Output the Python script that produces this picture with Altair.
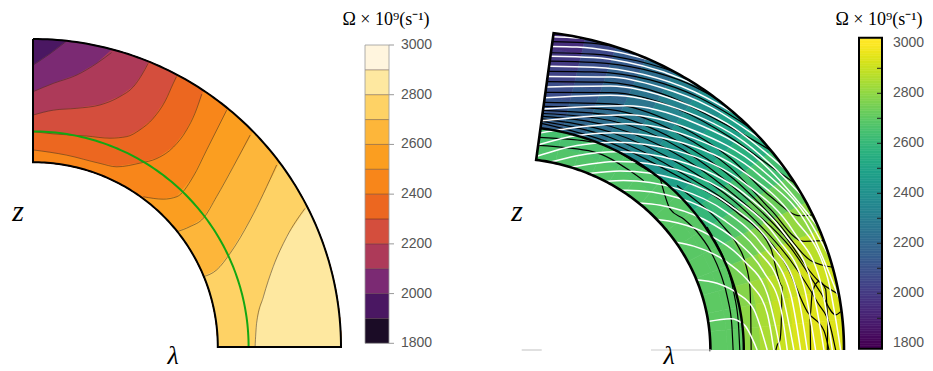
import math
import numpy as np
import pandas as pd
import altair as alt

# ---------------- data ----------------
LEVELS = [1800, 1900, 2000, 2100, 2200, 2300, 2400, 2500, 2600, 2700, 2800, 2900]
BAND_COLORS = ["#1b0c26", "#4a1762", "#7b2a73", "#ad3a59", "#d44e3d", "#ec6720",
               "#f8861a", "#fb9e20", "#fdb63a", "#fed265", "#fee8a0", "#fff5de"]
TICKS = [1800, 2000, 2200, 2400, 2600, 2800, 3000]
MINOR_TICKS = [1900, 2000, 2100, 2200, 2300, 2400, 2500, 2600, 2700, 2800, 2900]
LEFT_BASE_LEVEL = 1900

# left panel contour lines (lambda, z), normalised by outer radius
LEFT_CONTOURS = {
    2000: [(0.0, 0.915), (0.055, 0.952), (0.110, 0.994)],
    2100: [(0.0, 0.829), (0.066, 0.856), (0.142, 0.883), (0.207, 0.921), (0.255, 0.956)],
    2200: [(0.0, 0.753), (0.066, 0.769), (0.142, 0.775), (0.218, 0.786), (0.282, 0.813),
           (0.326, 0.845), (0.353, 0.883), (0.374, 0.921)],
    2300: [(0.0, 0.699), (0.066, 0.692), (0.174, 0.685), (0.250, 0.678), (0.304, 0.683),
           (0.347, 0.705), (0.390, 0.742), (0.430, 0.800), (0.455, 0.855), (0.466, 0.878)],
    2400: [(0.0, 0.640), (0.109, 0.623), (0.218, 0.596), (0.272, 0.585), (0.347, 0.597),
           (0.402, 0.612), (0.456, 0.649), (0.499, 0.705), (0.526, 0.759), (0.548, 0.821)],
    2500: [(0.358, 0.488), (0.423, 0.480), (0.467, 0.488), (0.520, 0.553), (0.564, 0.640),
           (0.629, 0.769)],
    2600: [(0.466, 0.374), (0.510, 0.391), (0.553, 0.418), (0.596, 0.488), (0.650, 0.585),
           (0.705, 0.688)],
    2700: [(0.553, 0.228), (0.596, 0.250), (0.640, 0.304), (0.705, 0.412), (0.791, 0.591)],
    2800: [(0.721, 0.0), (0.726, 0.077), (0.748, 0.163), (0.780, 0.261), (0.824, 0.358),
           (0.883, 0.450)],
}

# right panel: Omega on a (latitude, radius) grid
RIGHT_LAT_EDGES = [0, 5.5, 11, 16.5, 22, 27.5, 33, 38.5, 44, 49.5, 55, 60.5, 66, 71.5, 77, 82.5]
RIGHT_R_EDGES = [0.6, 0.65, 0.7, 0.75, 0.8, 0.85, 0.9, 0.95, 1.0]
RIGHT_OMEGA = [
    [2700, 2700, 2800, 2850, 2900, 2935, 2950, 2940],
    [2700, 2700, 2795, 2845, 2895, 2930, 2945, 2935],
    [2700, 2700, 2780, 2830, 2875, 2910, 2925, 2915],
    [2695, 2695, 2750, 2800, 2840, 2870, 2885, 2875],
    [2695, 2695, 2700, 2740, 2775, 2800, 2810, 2800],
    [2690, 2690, 2650, 2680, 2705, 2725, 2730, 2720],
    [2690, 2690, 2600, 2620, 2640, 2650, 2650, 2640],
    [2690, 2685, 2540, 2555, 2565, 2570, 2565, 2555],
    [2685, 2680, 2480, 2490, 2495, 2495, 2490, 2480],
    [2685, 2675, 2420, 2420, 2420, 2415, 2405, 2395],
    [2680, 2670, 2360, 2355, 2350, 2340, 2330, 2315],
    [2680, 2665, 2300, 2290, 2280, 2265, 2250, 2230],
    [2675, 2660, 2250, 2230, 2210, 2190, 2170, 2145],
    [2675, 2655, 2200, 2170, 2140, 2115, 2090, 2060],
    [2670, 2650, 2160, 2120, 2080, 2040, 2000, 1960],
]

# right panel white lines (lambda, z)
RIGHT_WHITE = [
    [(0.129, 0.980), (0.180, 0.978), (0.225, 0.974)],
    [(0.125, 0.950), (0.200, 0.948), (0.300, 0.936), (0.370, 0.921), (0.420, 0.907)],
    [(0.121, 0.919), (0.250, 0.915), (0.350, 0.900), (0.450, 0.873), (0.563, 0.827)],
    [(0.117, 0.888), (0.250, 0.885), (0.400, 0.862), (0.550, 0.809), (0.673, 0.740)],
    [(0.113, 0.856), (0.300, 0.854), (0.450, 0.822), (0.600, 0.760), (0.757, 0.654)],
    [(0.109, 0.823), (0.300, 0.826), (0.500, 0.780), (0.650, 0.708), (0.825, 0.565)],
    [(0.104, 0.789), (0.300, 0.797), (0.500, 0.756), (0.700, 0.652), (0.878, 0.479)],
    [(0.099, 0.754), (0.350, 0.764), (0.550, 0.712), (0.750, 0.591), (0.923, 0.385)],
    [(0.094, 0.717), (0.350, 0.736), (0.550, 0.687), (0.750, 0.568), (0.900, 0.398), (0.958, 0.288)],
    [(0.089, 0.679), (0.350, 0.708), (0.550, 0.663), (0.750, 0.545), (0.900, 0.372), (0.988, 0.154)],
    [(0.085, 0.642), (0.200, 0.671), (0.310, 0.680), (0.500, 0.653), (0.700, 0.557), (0.850, 0.413),
     (0.950, 0.229), (0.990, 0.0)],
    [(0.080, 0.606), (0.200, 0.640), (0.315, 0.650), (0.500, 0.623), (0.700, 0.524), (0.850, 0.369),
     (0.930, 0.211), (0.965, 0.0)],
    [(0.122, 0.588), (0.200, 0.608), (0.320, 0.620), (0.500, 0.593), (0.700, 0.490), (0.820, 0.366),
     (0.900, 0.219), (0.940, 0.0)],
    [(0.181, 0.572), (0.325, 0.590), (0.500, 0.564), (0.680, 0.471), (0.800, 0.350), (0.880, 0.199),
     (0.915, 0.0)],
    [(0.235, 0.552), (0.330, 0.560), (0.500, 0.534), (0.660, 0.452), (0.780, 0.333), (0.860, 0.181),
     (0.890, 0.0)],
    [(0.286, 0.527), (0.340, 0.530), (0.500, 0.505), (0.650, 0.430), (0.760, 0.323), (0.840, 0.175),
     (0.870, 0.0)],
    [(0.332, 0.500), (0.350, 0.500), (0.500, 0.477), (0.640, 0.407), (0.740, 0.313), (0.810, 0.196),
     (0.850, 0.0)],
    [(0.386, 0.460), (0.450, 0.453), (0.580, 0.409), (0.680, 0.340), (0.760, 0.244), (0.810, 0.134),
     (0.830, 0.0)],
    [(0.440, 0.408), (0.500, 0.398), (0.600, 0.358), (0.700, 0.280), (0.770, 0.177), (0.810, 0.0)],
    [(0.497, 0.337), (0.550, 0.325), (0.650, 0.275), (0.720, 0.207), (0.770, 0.115), (0.790, 0.0)],
    [(0.558, 0.220), (0.620, 0.209), (0.680, 0.178), (0.730, 0.127), (0.770, 0.0)],
    [(0.593, 0.089), (0.660, 0.098), (0.700, 0.080), (0.740, 0.0)],
]

# right panel black isolines of Omega (lambda, z)
RIGHT_BLACK = [
    [(0.126, 0.965), (0.220, 0.962), (0.300, 0.952), (0.320, 0.947)],
    [(0.122, 0.930), (0.250, 0.926), (0.380, 0.905), (0.490, 0.872)],
    [(0.119, 0.904), (0.250, 0.900), (0.400, 0.878), (0.530, 0.835), (0.615, 0.789)],
    [(0.115, 0.872), (0.250, 0.870), (0.420, 0.845), (0.560, 0.793), (0.710, 0.702)],
    [(0.111, 0.840), (0.280, 0.838), (0.460, 0.800), (0.620, 0.720), (0.780, 0.625)],
    [(0.107, 0.806), (0.300, 0.805), (0.500, 0.755), (0.660, 0.665), (0.780, 0.575), (0.853, 0.522)],
    [(0.103, 0.775), (0.300, 0.770), (0.500, 0.705), (0.660, 0.600), (0.780, 0.480), (0.870, 0.420),
     (0.906, 0.423)],
    [(0.101, 0.762), (0.300, 0.752), (0.500, 0.680), (0.660, 0.570), (0.780, 0.440), (0.880, 0.340),
     (0.940, 0.342)],
    [(0.100, 0.750), (0.300, 0.735), (0.500, 0.655), (0.670, 0.535), (0.800, 0.400), (0.900, 0.280),
     (0.966, 0.259)],
    [(0.098, 0.740), (0.300, 0.718), (0.520, 0.625), (0.680, 0.500), (0.820, 0.360), (0.920, 0.220),
     (0.985, 0.174)],
    [(0.097, 0.731), (0.300, 0.700), (0.520, 0.600), (0.700, 0.460), (0.840, 0.320), (0.930, 0.180),
     (0.975, 0.110), (0.990, 0.120)],
    [(0.096, 0.723), (0.300, 0.682), (0.520, 0.575), (0.710, 0.430), (0.840, 0.280), (0.920, 0.150),
     (0.960, 0.070), (0.975, 0.0)],
    [(0.095, 0.716), (0.300, 0.665), (0.520, 0.550), (0.720, 0.400), (0.830, 0.260), (0.890, 0.120),
     (0.940, 0.060), (0.955, 0.0)],
    [(0.094, 0.709), (0.300, 0.648), (0.500, 0.545), (0.680, 0.430), (0.780, 0.320), (0.815, 0.200),
     (0.812, 0.080), (0.808, 0.030), (0.800, 0.015), (0.796, 0.0)],
    [(0.900, 0.0), (0.898, 0.100), (0.905, 0.180), (0.925, 0.215), (0.945, 0.190), (0.952, 0.100),
     (0.950, 0.0)],
    [(0.722, 0.0), (0.721, 0.100), (0.718, 0.200), (0.705, 0.270), (0.680, 0.330), (0.640, 0.385),
     (0.600, 0.430), (0.560, 0.465), (0.500, 0.515)],
    [(0.668, 0.0), (0.664, 0.080), (0.652, 0.160), (0.630, 0.240), (0.600, 0.310), (0.560, 0.370),
     (0.520, 0.410), (0.480, 0.440), (0.450, 0.536)],
    [(0.688, 0.0), (0.684, 0.080), (0.672, 0.170), (0.650, 0.260), (0.620, 0.330), (0.590, 0.385)],
    [(0.088, 0.665), (0.250, 0.650), (0.400, 0.570), (0.450, 0.535)],
    [(0.085, 0.640), (0.250, 0.620), (0.360, 0.560), (0.400, 0.530)],
]

AXIS_SEGMENTS = [(0.035, 0.095), (0.422, 0.603)]

# ---------------- layout (page pixels) ----------------
W, H, M = 917, 362, 8
L_CX, L_CY, L_UX, L_UY = 33, 347, 308, 308
R_CX, R_CY, R_UX, R_UY = 510, 350, 334, 319.6
L_RIN, L_LATMAX = 0.6, 90.0
R_RIN, R_LATMAX = 0.6, 82.5


def xscale(cx, ux):
    return alt.Scale(domain=[(M - cx) / ux, (M + W - cx) / ux], range=[0, W], nice=False, zero=False)


def yscale(cy, uy):
    return alt.Scale(domain=[(cy - M - H) / uy, (cy - M) / uy], range=[H, 0], nice=False, zero=False)


def vscale(v1, p1, v2, p2):
    a = (p2 - p1) / (v2 - v1)
    f = lambda p: v1 + (p - p1) / a
    return alt.Scale(domain=[f(M + H), f(M)], range=[H, 0], nice=False, zero=False)


XL, YL = xscale(L_CX, L_UX), yscale(L_CY, L_UY)
XR, YR = xscale(R_CX, R_UX), yscale(R_CY, R_UY)
CBL = vscale(3000, 45, 1800, 343.3)
CBR = vscale(3000, 43.3, 1800, 343.3)


def pol(r, lat):
    a = math.radians(lat)
    return (r * math.cos(a), r * math.sin(a))


def bpoint(t, rin, latmax):
    t = t % 4
    seg = min(int(t), 3)
    f = t - seg
    if seg == 0:
        return pol(1.0, latmax * (1 - f))
    if seg == 1:
        return pol(1 - f * (1 - rin), 0.0)
    if seg == 2:
        return pol(rin, f * latmax)
    return pol(rin + f * (1 - rin), latmax)


def bparam(lam, z, rin, latmax):
    r = math.hypot(lam, z)
    lat = math.degrees(math.atan2(z, lam))
    clip = lambda v: min(max(v, 0.0), 0.9999)
    a = math.radians(latmax)
    cands = [
        (abs(r - 1), clip((latmax - lat) / latmax)),
        (abs(z), 1 + clip((1 - r) / (1 - rin))),
        (abs(r - rin), 2 + clip(lat / latmax)),
        (abs(-math.sin(a) * lam + math.cos(a) * z), 3 + clip((r - rin) / (1 - rin))),
    ]
    return min(cands)[1]


def walk(t0, t1, rin, latmax, step=0.01):
    if t1 <= t0:
        t1 += 4
    ts = set(np.arange(t0, t1, step).tolist())
    ts.update([t0, t1])
    ts.update(k for k in range(math.ceil(t0), math.floor(t1) + 1))
    return [bpoint(t, rin, latmax) for t in sorted(ts)]


def rows(pts, pid, **extra):
    return [dict(id=pid, i=k, x=p[0], y=p[1], **extra) for k, p in enumerate(pts)]


def line_chart(df, xs, ys, **mk):
    return alt.Chart(df).mark_line(**mk).encode(
        x=alt.X("x:Q", scale=xs, axis=None),
        y=alt.Y("y:Q", scale=ys, axis=None),
        detail="id:N",
        order="i:Q",
    )


band_scale = alt.Scale(domain=LEVELS, range=BAND_COLORS)
viridis = alt.Scale(scheme="viridis", domain=[1800, 3000], clamp=True)
layers = []

# ---------------- left panel ----------------
base = walk(0, 4, L_RIN, L_LATMAX)
layers.append(line_chart(pd.DataFrame(rows(base, 0, band=LEFT_BASE_LEVEL)), XL, YL, strokeWidth=0.8)
              .encode(fill=alt.Fill("band:O", scale=band_scale, legend=None),
                      stroke=alt.Stroke("band:O", scale=band_scale, legend=None)))
for lev in sorted(LEFT_CONTOURS):
    pts = list(LEFT_CONTOURS[lev])
    ts = bparam(*pts[0], L_RIN, L_LATMAX)
    te = bparam(*pts[-1], L_RIN, L_LATMAX)
    pts[0] = bpoint(ts, L_RIN, L_LATMAX)
    pts[-1] = bpoint(te, L_RIN, L_LATMAX)
    poly = pts + walk(te, ts, L_RIN, L_LATMAX)[1:-1]
    layers.append(line_chart(pd.DataFrame(rows(poly, lev, band=lev)), XL, YL, strokeWidth=0.8)
                  .encode(fill=alt.Fill("band:O", scale=band_scale, legend=None),
                          stroke=alt.Stroke("band:O", scale=band_scale, legend=None)))
crows = []
for lev, pts in LEFT_CONTOURS.items():
    crows += rows(pts, lev)
layers.append(line_chart(pd.DataFrame(crows), XL, YL, color="#3a2a20", strokeWidth=0.7,
                         opacity=0.75, interpolate="monotone"))
green = [pol(0.7, lat) for lat in np.linspace(0, L_LATMAX, 91)]
layers.append(line_chart(pd.DataFrame(rows(green, 0)), XL, YL, color="#13a713", strokeWidth=2))
layers.append(line_chart(pd.DataFrame(rows(base, 0)), XL, YL, color="black", strokeWidth=2,
                         strokeJoin="miter"))

# ---------------- right panel ----------------
cells = []
cid = 0
for a, row in enumerate(RIGHT_OMEGA):
    la0, la1 = RIGHT_LAT_EDGES[a], RIGHT_LAT_EDGES[a + 1]
    for b, val in enumerate(row):
        r0, r1 = RIGHT_R_EDGES[b], RIGHT_R_EDGES[b + 1]
        lats = np.linspace(la0, la1, 4)
        pts = [pol(r0, t) for t in lats] + [pol(r1, t) for t in lats[::-1]]
        cells += rows(pts, cid, v=val)
        cid += 1
layers.append(line_chart(pd.DataFrame(cells), XR, YR, strokeWidth=0.8)
              .encode(fill=alt.Fill("v:Q", scale=viridis, legend=None),
                      stroke=alt.Stroke("v:Q", scale=viridis, legend=None)))
brows = []
for k, pts in enumerate(RIGHT_BLACK):
    brows += rows(pts, k)
layers.append(line_chart(pd.DataFrame(brows), XR, YR, color="black", strokeWidth=1.2,
                         interpolate="monotone"))
wrows = []
for k, pts in enumerate(RIGHT_WHITE):
    wrows += rows(pts, k)
layers.append(line_chart(pd.DataFrame(wrows), XR, YR, color="white", strokeWidth=1.5,
                         interpolate="monotone"))
tach = [pol(0.7, lat) for lat in np.linspace(0, R_LATMAX, 90)]
layers.append(line_chart(pd.DataFrame(rows(tach, 0)), XR, YR, color="black", strokeWidth=2.4))
rout = walk(1.9999, 1.0, R_RIN, R_LATMAX)
layers.append(line_chart(pd.DataFrame(rows(rout, 0)), XR, YR, color="black", strokeWidth=2.6,
                         strokeJoin="miter"))
axrows = []
for k, (a0, a1) in enumerate(AXIS_SEGMENTS):
    axrows += rows([(a0, 0.0), (a1, 0.0)], k)
layers.append(line_chart(pd.DataFrame(axrows), XR, YR, color="#cccccc", strokeWidth=1.2))

# ---------------- colour bars ----------------
bands = pd.DataFrame({"lo": LEVELS, "hi": [v + 100 for v in LEVELS]})
layers.append(alt.Chart(bands).mark_rect().encode(
    x=alt.value(365 - M), x2=alt.value(389 - M),
    y=alt.Y("lo:Q", scale=CBL, axis=None), y2="hi:Q",
    fill=alt.Fill("lo:O", scale=band_scale, legend=None)))
layers.append(alt.Chart(pd.DataFrame({"v": LEVELS[1:]})).mark_rule(color="#3a2020", opacity=0.55,
                                                                 strokeWidth=0.8).encode(
    x=alt.value(365 - M), x2=alt.value(389 - M), y=alt.Y("v:Q", scale=CBL, axis=None)))
layers.append(alt.Chart(pd.DataFrame({"lo": [1800], "hi": [3000]})).mark_rect(
    fillOpacity=0, stroke="#999999", strokeWidth=0.8).encode(
    x=alt.value(365 - M), x2=alt.value(389 - M),
    y=alt.Y("lo:Q", scale=CBL, axis=None), y2="hi:Q"))
tk = pd.DataFrame({"v": TICKS, "t": [str(v) for v in TICKS]})
layers.append(alt.Chart(tk).mark_rule(color="#999999", strokeWidth=1).encode(
    x=alt.value(389 - M), x2=alt.value(394 - M), y=alt.Y("v:Q", scale=CBL, axis=None)))
layers.append(alt.Chart(tk).mark_text(align="left", baseline="middle", font="Liberation Sans",
                                      fontSize=14, color="#555555").encode(
    x=alt.value(401 - M), y=alt.Y("v:Q", scale=CBL, axis=None), text="t:N"))

grad = pd.DataFrame({"lo": np.arange(1780, 3020, 10)})
grad["hi"] = grad["lo"] + 10
grad["mid"] = grad["lo"] + 5
layers.append(alt.Chart(grad).mark_rect(strokeWidth=0.6).encode(
    x=alt.value(859 - M), x2=alt.value(882 - M),
    y=alt.Y("lo:Q", scale=CBR, axis=None), y2="hi:Q",
    fill=alt.Fill("mid:Q", scale=viridis, legend=None),
    stroke=alt.Stroke("mid:Q", scale=viridis, legend=None)))
layers.append(alt.Chart(pd.DataFrame({"v": MINOR_TICKS})).mark_rule(color="#222222", strokeWidth=1).encode(
    x=alt.value(877 - M), x2=alt.value(882 - M), y=alt.Y("v:Q", scale=CBR, axis=None)))
layers.append(alt.Chart(pd.DataFrame({"lo": [1778], "hi": [3022]})).mark_rect(
    fillOpacity=0, stroke="black", strokeWidth=2).encode(
    x=alt.value(859 - M), x2=alt.value(882 - M),
    y=alt.Y("lo:Q", scale=CBR, axis=None), y2="hi:Q"))
layers.append(alt.Chart(tk).mark_text(align="left", baseline="middle", font="Liberation Sans",
                                      fontSize=14, color="#555555").encode(
    x=alt.value(893 - M), y=alt.Y("v:Q", scale=CBR, axis=None), text="t:N"))

# ---------------- texts ----------------
TITLE = "\u03a9 \u00d7 10\u2079(s\u207b\u00b9)"
texts = [
    (TITLE, 386, 20, 18, "normal", "middle"),
    (TITLE, 879, 20, 18, "normal", "middle"),
    ("z", 18, 221, 30, "italic", "alphabetic"),
    ("\u03bb", 173, 364, 26, "italic", "alphabetic"),
    ("z", 517, 221, 30, "italic", "alphabetic"),
    ("\u03bb", 669, 364, 26, "italic", "alphabetic"),
]
for t, px, py, fs, st, bl in texts:
    layers.append(alt.Chart(pd.DataFrame({"t": [t]})).mark_text(
        align="center", baseline=bl, font="Liberation Serif", fontSize=fs,
        fontStyle=st, color="black").encode(
        x=alt.value(px - M), y=alt.value(py - M), text="t:N"))

chart = alt.layer(*layers).resolve_scale(
    x="independent", y="independent", fill="independent", stroke="independent", color="independent"
).properties(
    width=W, height=H, padding=0, autosize=alt.AutoSizeParams(type="none")
).configure_view(stroke=None)

chart.save("out.html", embed_options={"renderer": "svg", "actions": False})
